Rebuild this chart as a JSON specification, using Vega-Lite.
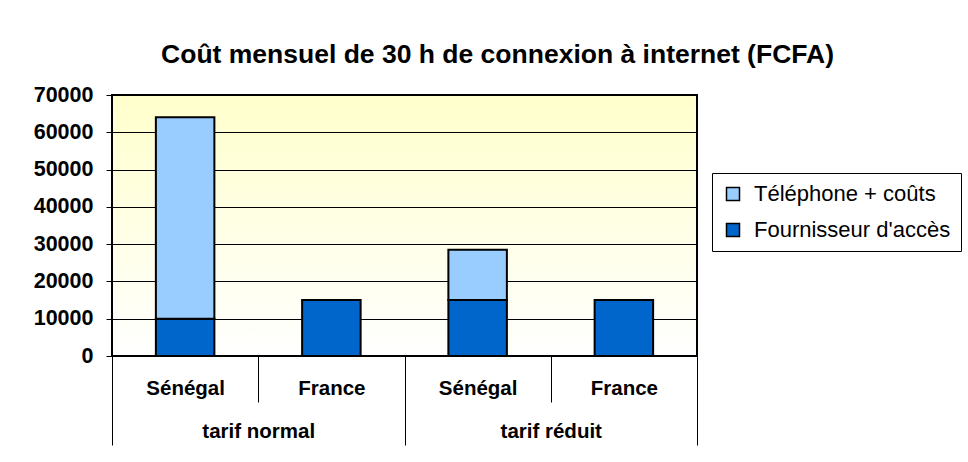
{
  "$schema": "https://vega.github.io/schema/vega-lite/v6.json",
  "autosize": "none",
  "width": 585,
  "height": 261,
  "padding": {"left": 112, "top": 95, "right": 271, "bottom": 106},
  "background": "white",
  "title": {
    "text": "Coût mensuel de 30 h de connexion à internet (FCFA)",
    "font": "Liberation Sans",
    "fontSize": 26.5,
    "fontWeight": "bold",
    "color": "black",
    "anchor": "middle",
    "frame": "group",
    "dx": 93,
    "baseline": "alphabetic",
    "offset": -5
  },
  "config": {
    "font": "Liberation Sans",
    "view": {"stroke": "black", "strokeWidth": 2}
  },
  "view": {
    "stroke": "black",
    "strokeWidth": 2,
    "fill": {
      "gradient": "linear",
      "x1": 0, "y1": 0, "x2": 0, "y2": 1,
      "stops": [
        {"offset": 0, "color": "#FFFFCC"},
        {"offset": 1, "color": "#FFFFFF"}
      ]
    }
  },
  "data": {
    "values": [
      {"tarif": "tarif normal", "cle": "normal-Sénégal", "serie": "Fournisseur d'accès", "valeur": 10000},
      {"tarif": "tarif normal", "cle": "normal-Sénégal", "serie": "Téléphone + coûts", "valeur": 54000},
      {"tarif": "tarif normal", "cle": "normal-France", "serie": "Fournisseur d'accès", "valeur": 15000},
      {"tarif": "tarif réduit", "cle": "réduit-Sénégal", "serie": "Fournisseur d'accès", "valeur": 15000},
      {"tarif": "tarif réduit", "cle": "réduit-Sénégal", "serie": "Téléphone + coûts", "valeur": 13500},
      {"tarif": "tarif réduit", "cle": "réduit-France", "serie": "Fournisseur d'accès", "valeur": 15000}
    ]
  },
  "layer": [
    {
      "mark": {"type": "bar", "width": {"band": 0.4}, "stroke": "black", "strokeWidth": 2},
      "encoding": {
        "x": {
          "field": "cle",
          "type": "nominal",
          "scale": {
            "domain": ["normal-Sénégal", "normal-France", "réduit-Sénégal", "réduit-France"],
            "paddingInner": 0,
            "paddingOuter": 0
          },
          "axis": {
            "orient": "bottom",
            "title": null,
            "domain": false,
            "grid": false,
            "labelAngle": 0,
            "labelExpr": "split(datum.value, '-')[1]",
            "tickBand": "extent",
            "tickSize": 46,
            "tickColor": "black",
            "tickWidth": 1,
            "labelBaseline": "alphabetic",
            "labelPadding": -8,
            "labelFont": "Liberation Sans",
            "labelFontSize": 20.5,
            "labelFontWeight": "bold",
            "labelColor": "black"
          }
        },
        "y": {
          "field": "valeur",
          "type": "quantitative",
          "aggregate": "sum",
          "stack": "zero",
          "scale": {"domain": [0, 70000], "nice": false},
          "axis": {
            "title": null,
            "values": [0, 10000, 20000, 30000, 40000, 50000, 60000, 70000],
            "format": "d",
            "grid": true,
            "gridColor": "black",
            "gridWidth": 1,
            "gridOpacity": 1,
            "domain": false,
            "tickSize": 6,
            "tickColor": "black",
            "labelPadding": 13,
            "labelFont": "Liberation Sans",
            "labelFontSize": 21.5,
            "labelFontWeight": "bold",
            "labelColor": "black"
          }
        },
        "color": {
          "field": "serie",
          "type": "nominal",
          "scale": {
            "domain": ["Téléphone + coûts", "Fournisseur d'accès"],
            "range": ["#99CCFF", "#0066CC"]
          },
          "legend": {
            "title": null,
            "orient": "none",
            "legendX": 600,
            "legendY": 78,
            "direction": "vertical",
            "strokeColor": "black",
            "fillColor": "white",
            "padding": 10,
            "rowPadding": 14,
            "labelFont": "Liberation Sans",
            "labelFontSize": 22,
            "labelLimit": 400,
            "labelColor": "black",
            "labelOffset": 10,
            "symbolType": "square",
            "symbolSize": 169,
            "symbolStrokeColor": "black",
            "symbolStrokeWidth": 1.5,
            "symbolOpacity": 1
          }
        },
        "order": {"field": "serie", "sort": "ascending"}
      }
    },
    {
      "mark": {"type": "bar", "opacity": 0},
      "encoding": {
        "x": {
          "field": "tarif",
          "type": "nominal",
          "scale": {
            "domain": ["tarif normal", "tarif réduit"],
            "paddingInner": 0,
            "paddingOuter": 0
          },
          "axis": {
            "orient": "bottom",
            "title": null,
            "domain": false,
            "grid": false,
            "labelAngle": 0,
            "tickBand": "extent",
            "tickSize": 89,
            "tickColor": "black",
            "tickWidth": 1,
            "labelBaseline": "alphabetic",
            "labelPadding": -8,
            "labelFont": "Liberation Sans",
            "labelFontSize": 20.5,
            "labelFontWeight": "bold",
            "labelColor": "black"
          }
        }
      }
    }
  ],
  "resolve": {"scale": {"x": "independent"}, "axis": {"x": "independent"}}
}
